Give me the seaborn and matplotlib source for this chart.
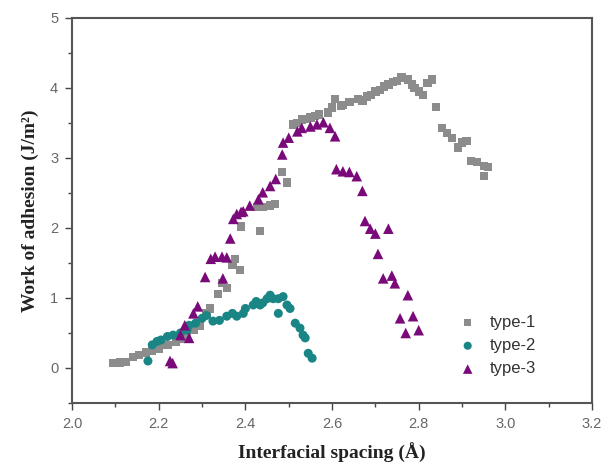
import matplotlib
matplotlib.use("Agg")
import matplotlib.pyplot as plt
import seaborn as sns
import pandas as pd
from matplotlib.ticker import MultipleLocator, FormatStrFormatter

# ---- data ----
t1_x = [2.095, 2.11, 2.125, 2.14, 2.155, 2.17, 2.185, 2.20, 2.22, 2.24, 2.255, 2.265, 2.28, 2.295,
        2.31, 2.318, 2.337, 2.346, 2.357, 2.37, 2.376, 2.388, 2.39, 2.434, 2.427, 2.44, 2.457, 2.468,
        2.485, 2.496, 2.51, 2.52, 2.53, 2.54, 2.55, 2.56, 2.57, 2.59, 2.60, 2.607, 2.62, 2.626, 2.64,
        2.66, 2.67, 2.68, 2.69, 2.70, 2.71, 2.72, 2.73, 2.74, 2.75, 2.76, 2.775, 2.785, 2.79, 2.80,
        2.81, 2.82, 2.83, 2.84, 2.854, 2.866, 2.877, 2.89, 2.90, 2.91, 2.92, 2.935, 2.95, 2.96, 2.95]
t1_y = [0.07, 0.08, 0.09, 0.16, 0.19, 0.22, 0.25, 0.28, 0.33, 0.38, 0.42, 0.45, 0.54, 0.60,
        0.78, 0.85, 1.06, 1.21, 1.14, 1.47, 1.56, 1.40, 2.02, 1.96, 2.30, 2.30, 2.32, 2.34,
        2.80, 2.65, 3.48, 3.50, 3.55, 3.56, 3.58, 3.60, 3.62, 3.65, 3.72, 3.84, 3.74, 3.76, 3.80,
        3.84, 3.82, 3.88, 3.90, 3.95, 3.97, 4.02, 4.05, 4.09, 4.10, 4.15, 4.12, 4.05, 4.00, 3.95,
        3.90, 4.07, 4.12, 3.73, 3.43, 3.36, 3.29, 3.15, 3.22, 3.24, 2.96, 2.94, 2.89, 2.87, 2.74]

t2_x = [2.175, 2.185, 2.196, 2.205, 2.22, 2.233, 2.25, 2.265, 2.27, 2.285, 2.30, 2.31, 2.325, 2.34,
        2.357, 2.37, 2.38, 2.395, 2.40, 2.418, 2.425, 2.434, 2.44, 2.45, 2.457, 2.464, 2.476, 2.487,
        2.496, 2.503, 2.476, 2.515, 2.526, 2.533, 2.538, 2.545, 2.554]
t2_y = [0.10, 0.33, 0.38, 0.40, 0.45, 0.47, 0.50, 0.54, 0.61, 0.64, 0.71, 0.75, 0.67, 0.68,
        0.74, 0.78, 0.74, 0.78, 0.85, 0.90, 0.95, 0.90, 0.93, 0.99, 1.04, 0.99, 0.99, 1.02,
        0.90, 0.85, 0.78, 0.64, 0.57, 0.47, 0.43, 0.21, 0.14]

t3_x = [2.226, 2.232, 2.25, 2.26, 2.27, 2.28, 2.29, 2.307, 2.32, 2.33, 2.346, 2.348, 2.357, 2.365,
        2.372, 2.38, 2.39, 2.395, 2.41, 2.43, 2.44, 2.457, 2.47, 2.485, 2.487, 2.50, 2.52, 2.53,
        2.55, 2.565, 2.58, 2.595, 2.607, 2.61, 2.625, 2.64, 2.657, 2.67, 2.676, 2.688, 2.70, 2.73,
        2.706, 2.718, 2.738, 2.745, 2.775, 2.757, 2.787, 2.77, 2.80]
t3_y = [0.10, 0.07, 0.47, 0.61, 0.43, 0.78, 0.88, 1.30, 1.56, 1.59, 1.59, 1.28, 1.58, 1.85,
        2.13, 2.20, 2.23, 2.24, 2.32, 2.41, 2.51, 2.60, 2.70, 3.05, 3.22, 3.29, 3.38, 3.43,
        3.45, 3.48, 3.51, 3.43, 3.31, 2.84, 2.81, 2.80, 2.74, 2.53, 2.10, 1.99, 1.92, 1.99,
        1.63, 1.28, 1.32, 1.21, 1.04, 0.71, 0.74, 0.50, 0.54]

labels = ["type-1", "type-2", "type-3"]

df = pd.concat([
    pd.DataFrame({"x": t1_x, "y": t1_y, "type": labels[0]}),
    pd.DataFrame({"x": t2_x, "y": t2_y, "type": labels[1]}),
    pd.DataFrame({"x": t3_x, "y": t3_y, "type": labels[2]}),
])

sns.set_theme(style="white")
plt.rcParams["font.family"] = ["Liberation Sans", "DejaVu Sans"]

fig = plt.figure(figsize=(6.01, 4.73), dpi=100)
ax = fig.add_axes([0.12, 0.148, 0.865, 0.814])

palette = {"type-1": "#8c8c8c", "type-2": "#1a8585", "type-3": "#7a0a7a"}
markers = {"type-1": "s", "type-2": "o", "type-3": "^"}
sizes = {"type-1": 36, "type-2": 42, "type-3": 58}

for lab in labels:
    sub = df[df["type"] == lab]
    sns.scatterplot(data=sub, x="x", y="y", color=palette[lab], marker=markers[lab],
                    s=sizes[lab], edgecolor="none", ax=ax, label=lab)

ax.set_xlim(2.0, 3.2)
ax.set_ylim(-0.5, 5)
ax.xaxis.set_major_locator(MultipleLocator(0.2))
ax.xaxis.set_minor_locator(MultipleLocator(0.1))
ax.yaxis.set_minor_locator(MultipleLocator(0.5))
ax.set_yticks([0, 1, 2, 3, 4, 5])
ax.xaxis.set_major_formatter(FormatStrFormatter("%.1f"))

ax.tick_params(which="both", direction="out", color="#444444", labelcolor="#666666", labelsize=10.5)
ax.tick_params(which="major", length=5, width=1, pad=5)
ax.tick_params(which="minor", length=3, width=1)
ax.tick_params(bottom=True, left=True, which="both")

for sp in ax.spines.values():
    sp.set_color("#555555")
    sp.set_linewidth(1.5)
    sp.set_visible(True)

ax.set_xlabel("Interfacial spacing (Å)", family="Liberation Serif", fontweight="bold",
              fontsize=14, color="#222222", labelpad=9)
ax.set_ylabel("Work of adhesion (J/m²)", family="Liberation Serif", fontweight="bold",
              fontsize=14, color="#222222", labelpad=8)

leg = ax.legend(loc="lower left", bbox_to_anchor=(0.70, 0.03), frameon=False,
                fontsize=12, handletextpad=0.3, labelspacing=0.5, markerscale=0.9)
for t in leg.get_texts():
    t.set_color("#333333")

fig.savefig("out.png", dpi=100)
